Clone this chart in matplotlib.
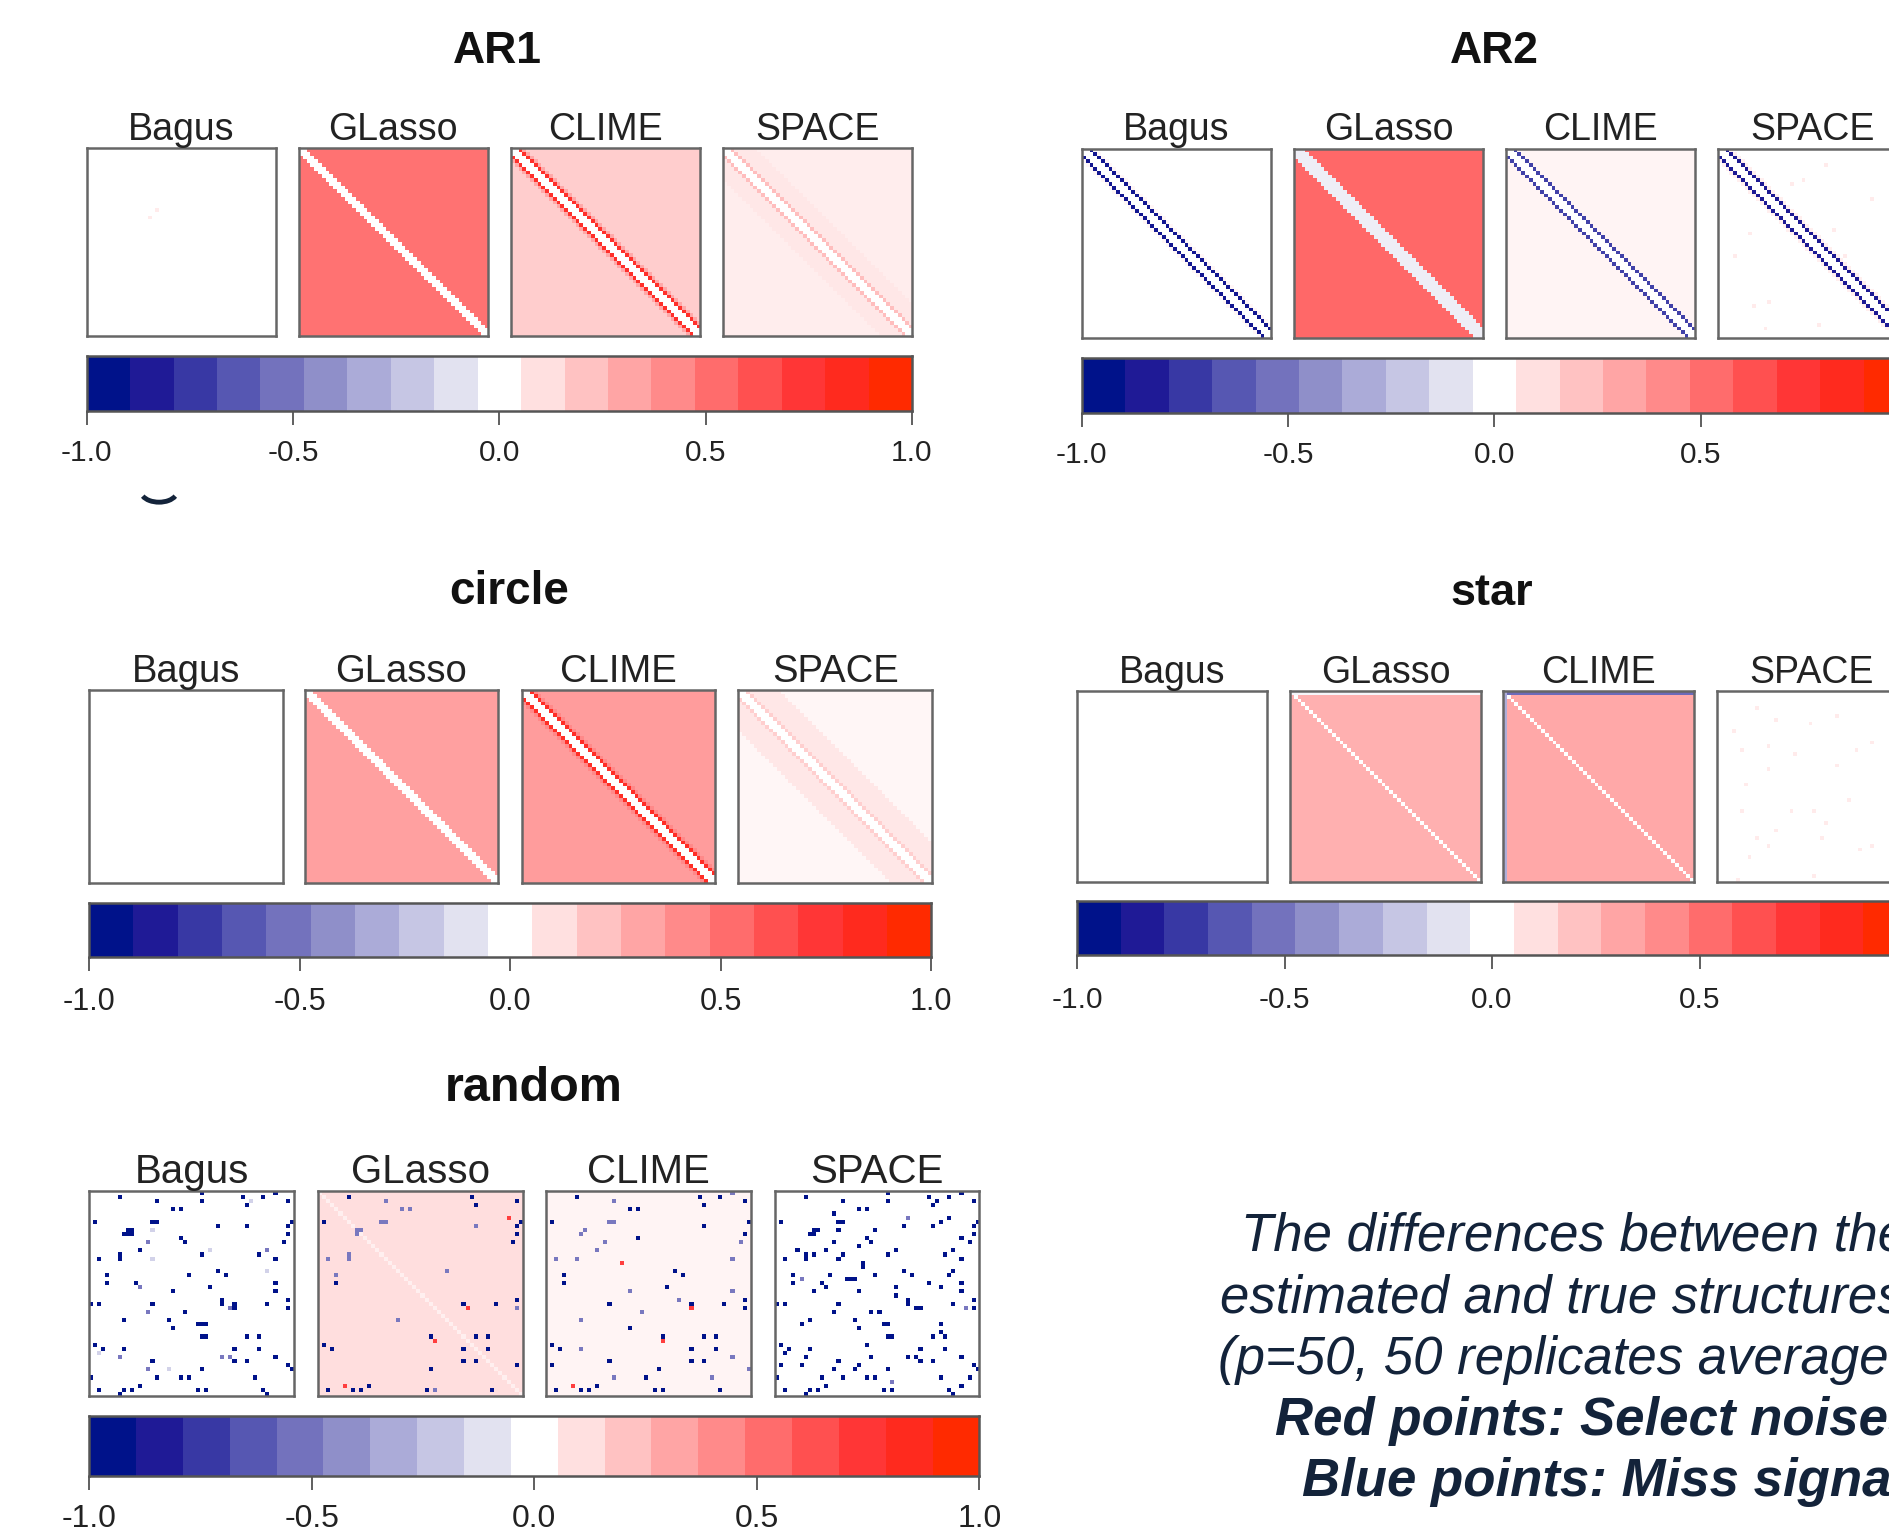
import numpy as np
import matplotlib
matplotlib.use("Agg")
import matplotlib.pyplot as plt
from matplotlib.colors import LinearSegmentedColormap
from matplotlib.patches import Arc

plt.rcParams['font.family'] = ['Liberation Sans', 'DejaVu Sans']

method_names = ["Bagus", "GLasso", "CLIME", "SPACE"]
tick_values = [-1.0, -0.5, 0.0, 0.5, 1.0]
tick_labels = ["-1.0", "-0.5", "0.0", "0.5", "1.0"]
level_colors = ["#00128A", "#1F1A96", "#3838A4", "#5657B2", "#7372BD", "#8F8FC9", "#ABABD8",
                "#C6C6E4", "#E2E2F0", "#FFFFFF", "#FFE0E0", "#FFC2C2", "#FFA5A5", "#FF8A8A",
                "#FF6C6C", "#FF5050", "#FF3636", "#FF2A1E", "#FF2A00"]

# tones by distance from the diagonal: (up to distance, value)
ar1_bagus = [(99, 0.0)]
ar1_glasso = [(1, 0.0), (99, 0.50)]
ar1_clime = [(1, 0.0), (2, 0.78), (3, 0.30), (99, 0.17)]
ar1_space = [(1, 0.0), (2, 0.22), (8, 0.08), (99, 0.06)]
ar2_bagus = [(1, 0.0), (2, -0.88), (3, 0.03), (99, 0.0)]
ar2_glasso = [(2, -0.06), (99, 0.54)]
ar2_clime = [(1, 0.0), (2, -0.70), (99, 0.04)]
ar2_space = [(1, 0.0), (2, -0.85), (3, 0.05), (99, 0.0)]
circle_bagus = [(99, 0.0)]
circle_glasso = [(1, 0.0), (99, 0.33)]
circle_clime = [(1, 0.0), (2, 0.80), (3, 0.42), (99, 0.35)]
circle_space = [(1, 0.0), (2, 0.16), (10, 0.08), (99, 0.03)]
star_bagus = [(99, 0.0)]
star_glasso = [(0, 0.0), (99, 0.27)]
star_clime = [(0, 0.0), (99, 0.30)]
star_space = [(99, 0.0)]
random_bagus = [(99, 0.0)]
random_glasso = [(0, 0.05), (99, 0.11)]
random_clime = [(99, 0.04)]
random_space = [(99, 0.0)]

# single cells that stand out: (column, row)
ar1_bagus_faint = [(18, 16), (16, 18)]
ar2_space_pink = [(28, 4), (22, 8), (19, 9), (40, 13), (30, 21), (8, 22), (4, 28), (33, 28),
                  (13, 40), (9, 41), (26, 46), (12, 47)]
star_space_pink = [(10, 4), (15, 7), (24, 8), (31, 6), (4, 10), (13, 14), (6, 15), (20, 16),
                   (40, 13), (36, 15), (13, 20), (31, 19), (7, 24), (6, 31), (19, 31), (25, 31),
                   (34, 28), (28, 34), (15, 36), (10, 38), (13, 40), (27, 38), (40, 40), (37, 41),
                   (8, 43), (25, 48), (5, 49)]

rb_dark = [(7, 1), (16, 2), (27, 0), (37, 1), (42, 1), (45, 0), (48, 2), (38, 3), (20, 4), (22, 4),
           (1, 7), (15, 7), (16, 7), (31, 8), (38, 8), (48, 8), (49, 7), (48, 10), (10, 9), (9, 9),
           (8, 10), (9, 10), (10, 10), (22, 11), (23, 12), (47, 12), (12, 14), (27, 15), (41, 15),
           (2, 16), (7, 15), (7, 16), (45, 16), (31, 19), (4, 20), (24, 20), (33, 20), (4, 22),
           (11, 22), (29, 23), (45, 22), (20, 24), (45, 24), (32, 26), (32, 27), (48, 26), (0, 27),
           (2, 27), (15, 27), (43, 27), (35, 27), (35, 28), (48, 28), (23, 29), (8, 31), (19, 31),
           (26, 32), (27, 32), (28, 32), (20, 33), (27, 35), (28, 35), (38, 35), (41, 35), (1, 37),
           (3, 38), (8, 38), (35, 38), (41, 38), (45, 40), (35, 41), (38, 41), (15, 41), (48, 42),
           (49, 43), (27, 43), (0, 45), (16, 45), (24, 45), (40, 45), (12, 47), (2, 48), (8, 48),
           (10, 48), (26, 48), (28, 48), (42, 48), (7, 49), (43, 49), (27, 2), (22, 45)]
rb_mid = [(14, 12), (22, 11), (43, 14), (12, 23), (34, 28), (7, 40), (32, 40), (34, 40), (14, 43),
          (14, 29)]
rb_faint = [(39, 2), (15, 9), (29, 14), (15, 16), (43, 19), (19, 43), (2, 39)]

rg_dark = [(7, 1), (37, 1), (38, 3), (48, 2), (1, 7), (49, 7), (48, 8), (48, 10), (47, 12), (4, 22),
           (48, 26), (35, 27), (43, 27), (27, 35), (38, 35), (41, 35), (1, 37), (3, 38), (35, 38),
           (41, 38), (35, 41), (38, 41), (48, 42), (27, 43), (2, 48), (8, 48), (10, 48), (26, 48),
           (12, 47), (42, 48)]
rg_mid = [(16, 2), (20, 4), (22, 4), (16, 7), (15, 7), (38, 8), (9, 9), (10, 9), (9, 10), (2, 16),
          (7, 16), (7, 15), (31, 19), (4, 20), (48, 28), (19, 31), (28, 48)]
rg_red = [(46, 6), (36, 28), (28, 36), (6, 47)]

rc_dark = [(7, 1), (37, 1), (42, 1), (38, 3), (48, 2), (20, 4), (22, 4), (1, 7), (38, 8), (49, 7),
           (48, 10), (22, 11), (31, 19), (4, 20), (33, 20), (4, 22), (29, 23), (48, 26), (15, 27),
           (43, 27), (35, 27), (48, 28), (20, 33), (28, 35), (38, 35), (41, 35), (1, 37), (3, 38),
           (35, 38), (41, 38), (15, 41), (35, 41), (38, 41), (1, 42), (27, 43), (24, 45), (2, 48),
           (8, 48), (10, 48), (26, 48), (28, 48), (42, 48), (12, 47)]
rc_mid = [(16, 2), (45, 0), (15, 7), (16, 7), (9, 9), (8, 10), (14, 12), (47, 12), (12, 14), (7, 16),
          (2, 16), (45, 16), (20, 24), (45, 24), (32, 26), (23, 29), (8, 31), (8, 38), (45, 40),
          (49, 43), (16, 45), (40, 45)]
rc_red = [(28, 36), (35, 28), (18, 17), (6, 47)]

rs_dark = [(7, 1), (16, 2), (27, 0), (27, 2), (37, 1), (39, 2), (38, 3), (42, 1), (45, 0), (48, 2),
           (20, 4), (22, 4), (14, 5), (42, 6), (1, 7), (15, 7), (16, 7), (40, 7), (49, 7), (31, 8),
           (38, 8), (48, 8), (10, 9), (9, 9), (8, 10), (9, 10), (15, 9), (24, 9), (48, 10), (22, 11),
           (45, 11), (14, 12), (23, 12), (47, 12), (20, 13), (5, 14), (12, 14), (29, 14), (43, 14),
           (7, 15), (7, 16), (9, 15), (16, 15), (15, 16), (27, 15), (41, 15), (2, 16), (45, 16),
           (21, 17), (21, 18), (31, 19), (43, 19), (4, 20), (13, 20), (24, 20), (33, 20), (42, 20),
           (17, 21), (18, 21), (19, 21), (4, 22), (11, 22), (37, 22), (45, 22), (12, 23), (29, 23),
           (40, 23), (9, 24), (20, 24), (45, 24), (29, 25), (32, 26), (32, 27), (48, 26), (0, 27),
           (2, 27), (15, 27), (43, 27), (34, 28), (35, 28), (48, 28), (14, 29), (23, 29), (25, 29),
           (8, 31), (19, 31), (6, 32), (26, 32), (27, 32), (40, 32), (20, 33), (27, 35), (28, 35),
           (38, 35), (40, 34), (41, 35), (1, 37), (3, 38), (2, 39), (8, 38), (22, 37), (35, 38),
           (41, 38), (7, 40), (23, 40), (32, 40), (34, 40), (45, 40), (15, 41), (35, 41), (38, 41),
           (1, 42), (6, 42), (20, 42), (48, 42), (49, 43), (14, 43), (19, 43), (27, 43), (0, 45),
           (11, 45), (16, 45), (22, 45), (24, 45), (40, 45), (47, 45), (12, 47), (45, 47), (2, 48),
           (8, 48), (10, 48), (26, 48), (28, 48), (42, 48), (7, 49), (43, 49)]
rs_mid = [(32, 6), (46, 28), (28, 46), (6, 21)]


def build_matrix(bands, dark=(), mid=(), faint=(), red=(), pink=()):
    mat = np.zeros((50, 50))
    for i in range(50):
        for j in range(50):
            for top, value in bands:
                if abs(i - j) <= top:
                    mat[i, j] = value
                    break
    for cells, value in [(faint, -0.16), (mid, -0.5), (dark, -0.95), (pink, 0.07), (red, 0.7)]:
        for col, row in cells:
            mat[row, col] = value
    return mat


star_glasso_mat = build_matrix(star_glasso)
star_glasso_mat[0, :] = -0.03
star_clime_mat = build_matrix(star_clime)
star_clime_mat[0, :] = -0.55
star_clime_mat[:, 0] = -0.3

# position of each block in the 1568 wide view of the reference
blocks = [
    dict(title="AR1", tx=413, ty=43, tsize=32, lsize=27, ly=108, nsize=21.5, ny=376, xs=[72, 248, 424, 600], w=157,
         top=123, bot=279, cx=(72, 757), cy=(296, 341),
         mats=[build_matrix(ar1_bagus, pink=ar1_bagus_faint), build_matrix(ar1_glasso), build_matrix(ar1_clime), build_matrix(ar1_space)]),
    dict(title="AR2", tx=1240, ty=43, tsize=32, lsize=27, ly=108, nsize=21.5, ny=378, xs=[898, 1074, 1250, 1426], w=157,
         top=124, bot=281, cx=(898, 1583), cy=(297, 343),
         mats=[build_matrix(ar2_bagus), build_matrix(ar2_glasso), build_matrix(ar2_clime), build_matrix(ar2_space, pink=ar2_space_pink)]),
    dict(title="circle", tx=423, ty=492, tsize=33, lsize=27.5, ly=558, nsize=22, ny=832, xs=[74, 253, 433, 613], w=160.5,
         top=573, bot=733, cx=(74, 773), cy=(750, 795),
         mats=[build_matrix(circle_bagus), build_matrix(circle_glasso), build_matrix(circle_clime), build_matrix(circle_space)]),
    dict(title="star", tx=1238, ty=493, tsize=32.5, lsize=27, ly=559, nsize=21.5, ny=830, xs=[894, 1071, 1248, 1425], w=158,
         top=574, bot=732, cx=(894, 1583), cy=(748, 793),
         mats=[build_matrix(star_bagus), star_glasso_mat, star_clime_mat, build_matrix(star_space, pink=star_space_pink)]),
    dict(title="random", tx=443, ty=904, tsize=35, lsize=29, ly=973, nsize=23, ny=1261, xs=[74, 264, 453, 643], w=170,
         top=989, bot=1159, cx=(74, 813), cy=(1176, 1226),
         mats=[build_matrix(random_bagus, dark=rb_dark, mid=rb_mid, faint=rb_faint),
               build_matrix(random_glasso, dark=rg_dark, mid=rg_mid, red=rg_red),
               build_matrix(random_clime, dark=rc_dark, mid=rc_mid, red=rc_red),
               build_matrix(random_space, dark=rs_dark, mid=rs_mid)]),
]

note_lines = [("The differences between the", 1030, 1027, "normal"),
              ("estimated and true structures", 1013, 1078, "normal"),
              ("(p=50, 50 replicates averaged)", 1011, 1129, "normal"),
              ("Red points: Select noises", 1058, 1180, "bold"),
              ("Blue points: Miss signals", 1081, 1231, "bold")]

VIEW_W, VIEW_H = 1568.0, 1268.0
heat_cmap = LinearSegmentedColormap.from_list("heat", level_colors, N=257)
bar_cmap = LinearSegmentedColormap.from_list("bar", level_colors, N=19)
frame_color = "#666666"
text_color = "#222222"


def fx(x):
    return x / VIEW_W


def fy(y):
    return 1 - y / VIEW_H


fig = plt.figure(figsize=(18.89, 15.27), dpi=100)

for b in blocks:
    fig.text(fx(b["tx"]), fy(b["ty"]), b["title"], fontsize=b["tsize"], fontweight="bold",
             ha="center", va="center", color="#111111")
    for name, x0, mat in zip(method_names, b["xs"], b["mats"]):
        ax = fig.add_axes([fx(x0), fy(b["bot"]), b["w"] / VIEW_W, (b["bot"] - b["top"]) / VIEW_H])
        ax.imshow(mat, cmap=heat_cmap, vmin=-0.947, vmax=0.947, aspect="auto", interpolation="nearest")
        ax.set_xticks([])
        ax.set_yticks([])
        for s in ax.spines.values():
            s.set_linewidth(1.8)
            s.set_color(frame_color)
        fig.text(fx(x0 + b["w"] / 2), fy(b["ly"]), name, fontsize=b["lsize"], ha="center", va="center", color=text_color)

    # colour key under the panels
    cax = fig.add_axes([fx(b["cx"][0]), fy(b["cy"][1]), (b["cx"][1] - b["cx"][0]) / VIEW_W, (b["cy"][1] - b["cy"][0]) / VIEW_H])
    edges = np.linspace(-1, 1, 20)
    cax.pcolormesh(edges, [0, 1], np.arange(19).reshape(1, -1), cmap=bar_cmap, vmin=-0.5, vmax=18.5)
    cax.set_yticks([])
    cax.set_xticks(tick_values)
    cax.set_xticklabels([])
    cax.tick_params(axis="x", length=10, width=1.2, color="#444444")
    for s in cax.spines.values():
        s.set_linewidth(1.8)
        s.set_color("#555555")
    span = b["cx"][1] - b["cx"][0]
    for value, label in zip(tick_values, tick_labels):
        fig.text(fx(b["cx"][0] + (value + 1) / 2 * span), fy(b["ny"]), label, fontsize=b["nsize"],
                 ha="center", va="center", color=text_color)

for line, x, y, weight in note_lines:
    fig.text(fx(x), fy(y), line, fontsize=38, style="italic", fontweight=weight, ha="left", va="center", color="#13233A")

# leftover stroke under the first key
fig.add_artist(Arc((fx(132), fy(408)), 30 / VIEW_W, 18 / VIEW_H, theta1=200, theta2=340,
                   transform=fig.transFigure, color="#13233A", linewidth=3.5))

fig.savefig("out.png", dpi=100)
